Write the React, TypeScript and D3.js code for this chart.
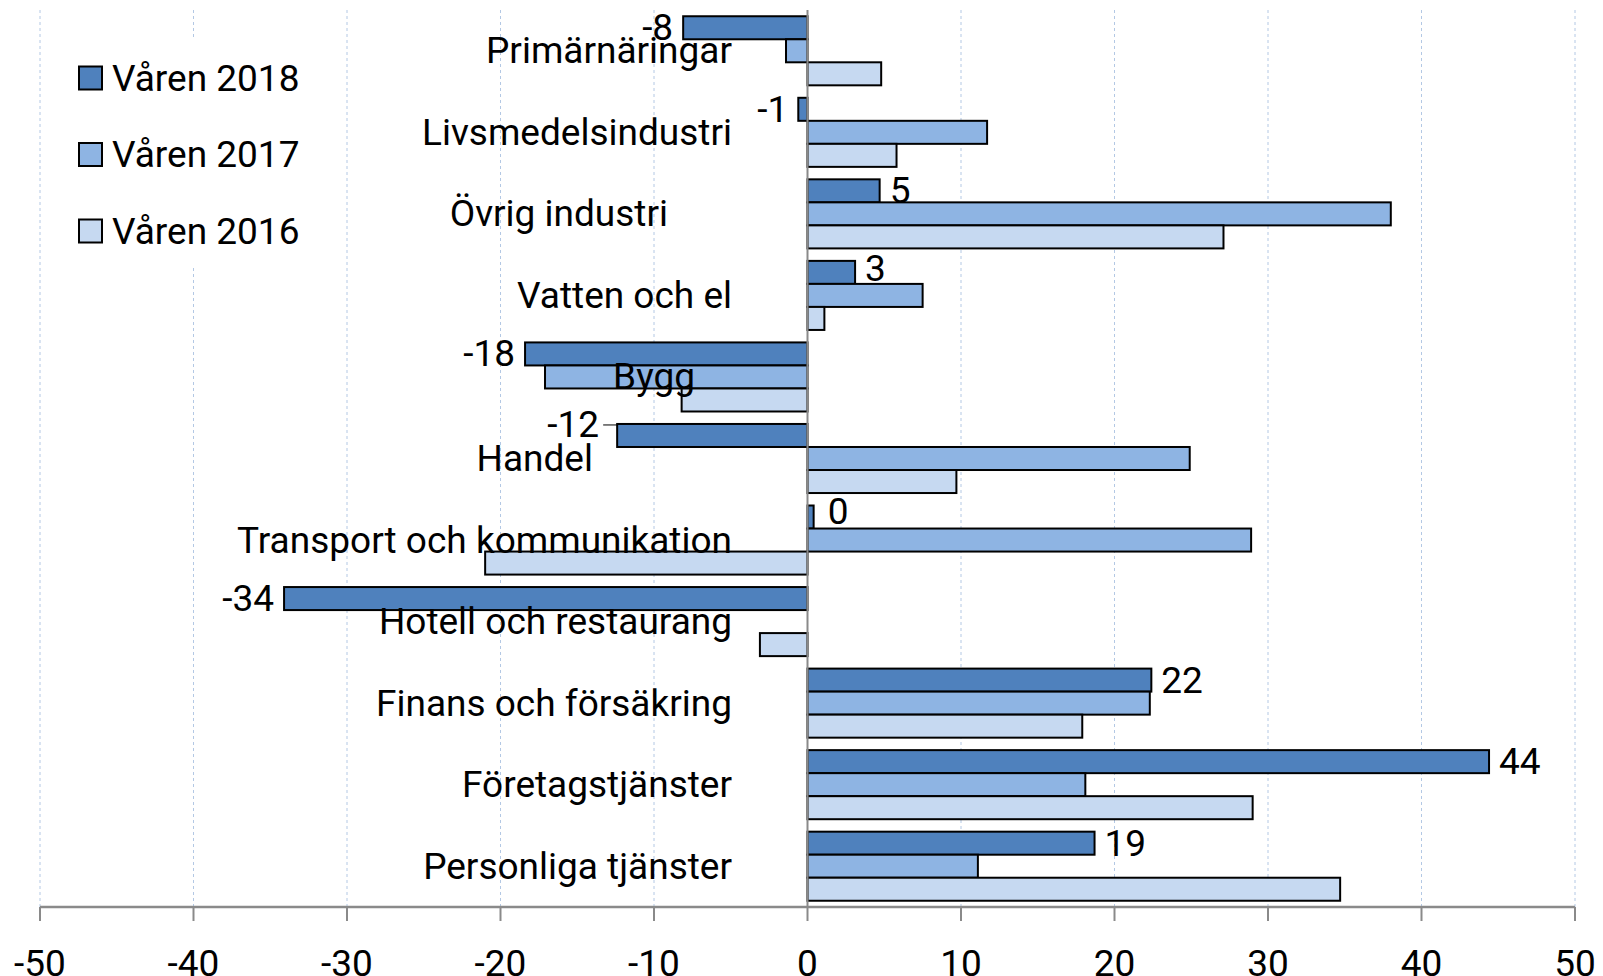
import React from 'react';
import * as d3 from 'd3';

const categories = [
  'Primärnäringar',
  'Livsmedelsindustri',
  'Övrig industri',
  'Vatten och el',
  'Bygg',
  'Handel',
  'Transport och kommunikation',
  'Hotell och restaurang',
  'Finans och försäkring',
  'Företagstjänster',
  'Personliga tjänster',
];

const seriesNames = ['Våren 2018', 'Våren 2017', 'Våren 2016'];

const varen2018 = [-8.1, -0.6, 4.7, 3.1, -18.4, -12.4, 0.4, -34.1, 22.4, 44.4, 18.7];
const varen2017 = [-1.4, 11.7, 38, 7.5, -17.1, 24.9, 28.9, 0, 22.3, 18.1, 11.1];
const varen2016 = [4.8, 5.8, 27.1, 1.1, -8.2, 9.7, -21, -3.1, 17.9, 29, 34.7];

const xTicks = [-50, -40, -30, -20, -10, 0, 10, 20, 30, 40, 50];

const colors = ['#4f81bd', '#8eb4e3', '#c6d9f1'];

// a few category labels sit left of the common right edge in the original
const labelRight: Record<string, number> = {
  'Övrig industri': 668,
  Handel: 593,
  Bygg: 695,
};

// data labels that were dragged off their default spot (with leader line)
const dataLabelNudge: Record<string, { dx: number; dy: number }> = {
  Handel: { dx: -8, dy: -11 },
  'Transport och kommunikation': { dx: 4, dy: -6 },
  'Vatten och el': { dx: 0, dy: -4 },
};

const W = 1603;
const H = 976;
const FONT = 'Roboto, "Open Sans", sans-serif';
const FS = 37;

export default function App() {
  const top = 10;
  const bottom = 907;

  const x = d3.scaleLinear().domain([-50, 50]).range([40, 1575]);
  const y = d3
    .scaleBand<string>()
    .domain(categories)
    .range([top, bottom])
    .paddingInner(0.153)
    .paddingOuter(0.0767);
  const sub = d3.scaleBand<number>().domain([0, 1, 2]).range([0, y.bandwidth()]);

  const series = [varen2018, varen2017, varen2016];

  return (
    <svg
      width={W}
      height={H}
      style={{ position: 'absolute', left: 0, top: 0, background: '#fff' }}
      fontFamily={FONT}
    >
      {/* gridlines */}
      {xTicks
        .filter((t) => t !== 0)
        .map((t) => (
          <line
            key={'g' + t}
            x1={x(t)}
            x2={x(t)}
            y1={top}
            y2={bottom}
            stroke="#b3c8e4"
            strokeWidth={1}
            strokeDasharray="3,3"
          />
        ))}

      {/* legend background hides gridlines */}
      <rect x={60} y={40} width={270} height={227} fill="#fff" />

      {/* bars */}
      {series.map((vals, si) =>
        vals.map((v, ci) =>
          v === 0 ? null : (
            <rect
              key={'b' + si + '-' + ci}
              x={Math.min(x(0), x(v))}
              y={(y(categories[ci]) ?? 0) + (sub(si) ?? 0)}
              width={Math.abs(x(v) - x(0))}
              height={sub.bandwidth()}
              fill={colors[si]}
              stroke="#000"
              strokeWidth={2}
            />
          )
        )
      )}

      {/* zero axis line */}
      <line x1={x(0)} x2={x(0)} y1={top} y2={bottom} stroke="#8a8a8a" strokeWidth={2} />

      {/* category labels */}
      {categories.map((c) => (
        <text
          key={'c' + c}
          x={labelRight[c] ?? 732}
          y={(y(c) ?? 0) + y.bandwidth() / 2}
          textAnchor="end"
          dominantBaseline="central"
          fontSize={FS}
          fill="#000"
        >
          {c}
        </text>
      ))}

      {/* data labels for 2018 */}
      {varen2018.map((v, ci) => {
        const c = categories[ci];
        const y0 = (y(c) ?? 0) + (sub(0) ?? 0);
        const cy = y0 + sub.bandwidth() / 2;
        const pos = v >= 0;
        const n = dataLabelNudge[c] ?? { dx: 0, dy: 0 };
        const tx = (pos ? x(v) + 10 : x(v) - 10) + n.dx;
        return (
          <g key={'d' + ci}>
            {c === 'Handel' && (
              <line x1={tx + 4} x2={x(v)} y1={y0 + 1} y2={y0 + 1} stroke="#000" strokeWidth={1} />
            )}
            <text
              x={tx}
              y={cy + n.dy}
              textAnchor={pos ? 'start' : 'end'}
              dominantBaseline="central"
              fontSize={FS}
              fill="#000"
            >
              {Math.round(v)}
            </text>
          </g>
        );
      })}

      {/* x axis */}
      <line x1={x(-50)} x2={x(50)} y1={bottom} y2={bottom} stroke="#8a8a8a" strokeWidth={2.5} />
      {xTicks.map((t) => (
        <g key={'t' + t}>
          <line x1={x(t)} x2={x(t)} y1={bottom} y2={bottom + 14} stroke="#8a8a8a" strokeWidth={2} />
          <text
            x={x(t)}
            y={963}
            textAnchor="middle"
            dominantBaseline="central"
            fontSize={FS}
            fill="#000"
          >
            {t}
          </text>
        </g>
      ))}

      {/* legend */}
      {seriesNames.map((n, i) => {
        const cy = 78 + i * 76.5;
        return (
          <g key={'l' + n}>
            <rect x={79} y={cy - 11.5} width={23} height={23} fill={colors[i]} stroke="#000" strokeWidth={2} />
            <text x={112} y={cy} dominantBaseline="central" fontSize={FS} fill="#000">
              {n}
            </text>
          </g>
        );
      })}
    </svg>
  );
}
